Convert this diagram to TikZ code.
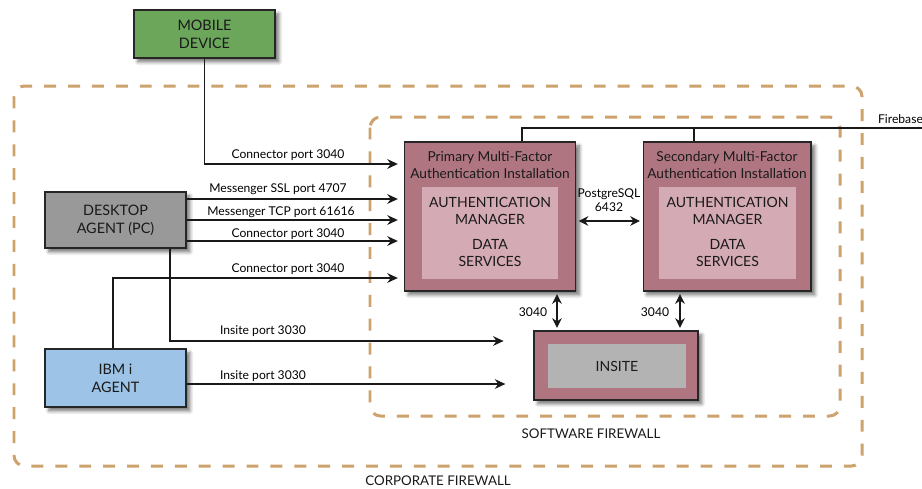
\documentclass[tikz,border=0pt]{standalone}
\usepackage{fontspec}
\setmainfont{Lato}
\usetikzlibrary{arrows.meta}
\usetikzlibrary{shadows.blur}
\definecolor{mobilegreen}{HTML}{6BA65B}
\definecolor{agentgray}{HTML}{999999}
\definecolor{agentblue}{HTML}{9DC3E6}
\definecolor{mauve}{HTML}{AF7682}
\definecolor{mauvelight}{HTML}{D4AAB4}
\definecolor{insitegray}{HTML}{B3B3B3}
\definecolor{firewall}{HTML}{CDA26C}
\definecolor{inktext}{HTML}{1A1A1A}
\tikzset{
	boxstyle/.style={rectangle,draw=black!85,line width=0.6pt,align=center,text=inktext,
		font=\fontsize{8.2}{10.2}\selectfont,
		blur shadow={shadow xshift=2.2pt,shadow yshift=-2.2pt,shadow blur steps=6,shadow opacity=55}},
	agentstyle/.style={boxstyle,minimum width=2.82cm},
	installstyle/.style={boxstyle,fill=mauve,minimum width=3.42cm,minimum height=2.98cm},
	innerstyle/.style={rectangle,fill=mauvelight,minimum width=2.72cm,minimum height=1.84cm},
	titlestyle/.style={align=center,text=inktext,font=\fontsize{7.8}{9.6}\selectfont},
	innertextstyle/.style={align=center,text=inktext,font=\fontsize{8}{9.2}\selectfont},
	portstyle/.style={text=black,font=\fontsize{6.9}{8}\selectfont,inner sep=1pt},
	firewallstyle/.style={draw=firewall,line width=1.7pt,dash pattern=on 6.8pt off 6.8pt,rounded corners=6pt},
	fwlabel/.style={text=inktext,font=\fontsize{7.6}{9}\selectfont},
	link/.style={draw=black!90,line width=0.9pt},
	arr/.style={link,-{Stealth[length=6pt,width=5.5pt]},shorten >=3.5pt},
	duo/.style={link,{Stealth[length=5.5pt,width=5.5pt]}-{Stealth[length=5.5pt,width=5.5pt]},shorten >=1.5pt,shorten <=1.5pt}
}
\begin{document}
\begin{tikzpicture}[x=0.02cm,y=-0.02cm]
	\useasboundingbox (0,0) rectangle (922,488);

	% firewalls
	\draw[firewallstyle] (14,86) rectangle (862,466);
	\draw[firewallstyle] (370,117) rectangle (840,416);
	\node[fwlabel] (corplabel) at (438,481) {CORPORATE FIREWALL};
	\node[fwlabel] (softlabel) at (591,434) {SOFTWARE FIREWALL};

	% clients
	\node[agentstyle,fill=mobilegreen,minimum height=0.96cm] (mobile) at (204.5,34) {MOBILE\\DEVICE};
	\node[agentstyle,fill=agentgray,minimum height=1.12cm] (desktop) at (115.5,220) {DESKTOP\\AGENT (PC)};
	\node[agentstyle,fill=agentblue,minimum height=1.16cm] (ibmi) at (115.5,378) {IBM i\\AGENT};

	% primary installation
	\node[installstyle] (primary) at (490,216.5) {};
	\node[innerstyle] (primaryin) at (490,233) {};
	\node[titlestyle] (primarytitle) at (490,165) {Primary Multi-Factor\\Authentication Installation};
	\node[innertextstyle] (primaryam) at (490,211) {AUTHENTICATION\\MANAGER};
	\node[innertextstyle] (primaryds) at (490,253) {DATA\\SERVICES};

	% secondary installation
	\node[installstyle,minimum width=3.36cm] (secondary) at (727,216.5) {};
	\node[innerstyle,minimum width=2.74cm] (secondaryin) at (727.5,233) {};
	\node[titlestyle] (secondarytitle) at (727,165) {Secondary Multi-Factor\\Authentication Installation};
	\node[innertextstyle] (secondaryam) at (727.5,211) {AUTHENTICATION\\MANAGER};
	\node[innertextstyle] (secondaryds) at (727.5,253) {DATA\\SERVICES};

	% insite
	\node[boxstyle,fill=mauve,minimum width=3.28cm,minimum height=1.38cm] (insite) at (616,365.5) {};
	\node[rectangle,fill=insitegray,minimum width=2.76cm,minimum height=0.88cm,text=inktext,
		font=\fontsize{8}{9}\selectfont] (insitein) at (617,366) {INSITE};

	% firebase
	\coordinate (firebase) at (930,128);
	\draw[link] (primary.north -| 522,0) |- (firebase);
	\draw[link] (secondary.north -| 694,0) -- (694,128);
	\node[portstyle,anchor=west] (firebaselabel) at (876,119) {Firebase};

	% client connections
	\draw[arr] (mobile.south) |- (primary.west |- 0,164);
	\draw[arr] (desktop.east |- 0,199) -- (primary.west |- 0,199);
	\draw[arr] (desktop.east |- 0,220) -- (primary.west |- 0,220);
	\draw[arr] (desktop.east |- 0,241) -- (primary.west |- 0,241);
	\draw[arr] (ibmi.north -| 113,0) |- (primary.west |- 0,278);
	\draw[arr,shorten >=17pt] (desktop.south -| 170,0) |- (insite.west |- 0,341);
	\draw[arr,shorten >=16pt] (ibmi.east |- 0,384) -- (insite.west |- 0,384);

	\node[portstyle] (mobileport) at (288,155) {Connector port 3040};
	\node[portstyle] (sslport) at (278,189) {Messenger SSL port 4707};
	\node[portstyle] (tcpport) at (281,212) {Messenger TCP port 61616};
	\node[portstyle] (deskport) at (288,234) {Connector port 3040};
	\node[portstyle] (ibmiport) at (288,269) {Connector port 3040};
	\node[portstyle] (deskinsite) at (263,331) {Insite port 3030};
	\node[portstyle] (ibmiinsite) at (263,376) {Insite port 3030};

	% server links
	\draw[duo] (primary.east |- 0,221) -- (secondary.west |- 0,221);
	\node[portstyle,align=center] (pglabel) at (609,200) {PostgreSQL\\6432};
	\draw[duo] (primary.south -| 557,0) -- (insite.north -| 557,0);
	\draw[duo] (secondary.south -| 680,0) -- (insite.north -| 680,0);
	\node[portstyle] (primaryport) at (533,312) {3040};
	\node[portstyle] (secondaryport) at (655,312) {3040};
\end{tikzpicture}
\end{document}
